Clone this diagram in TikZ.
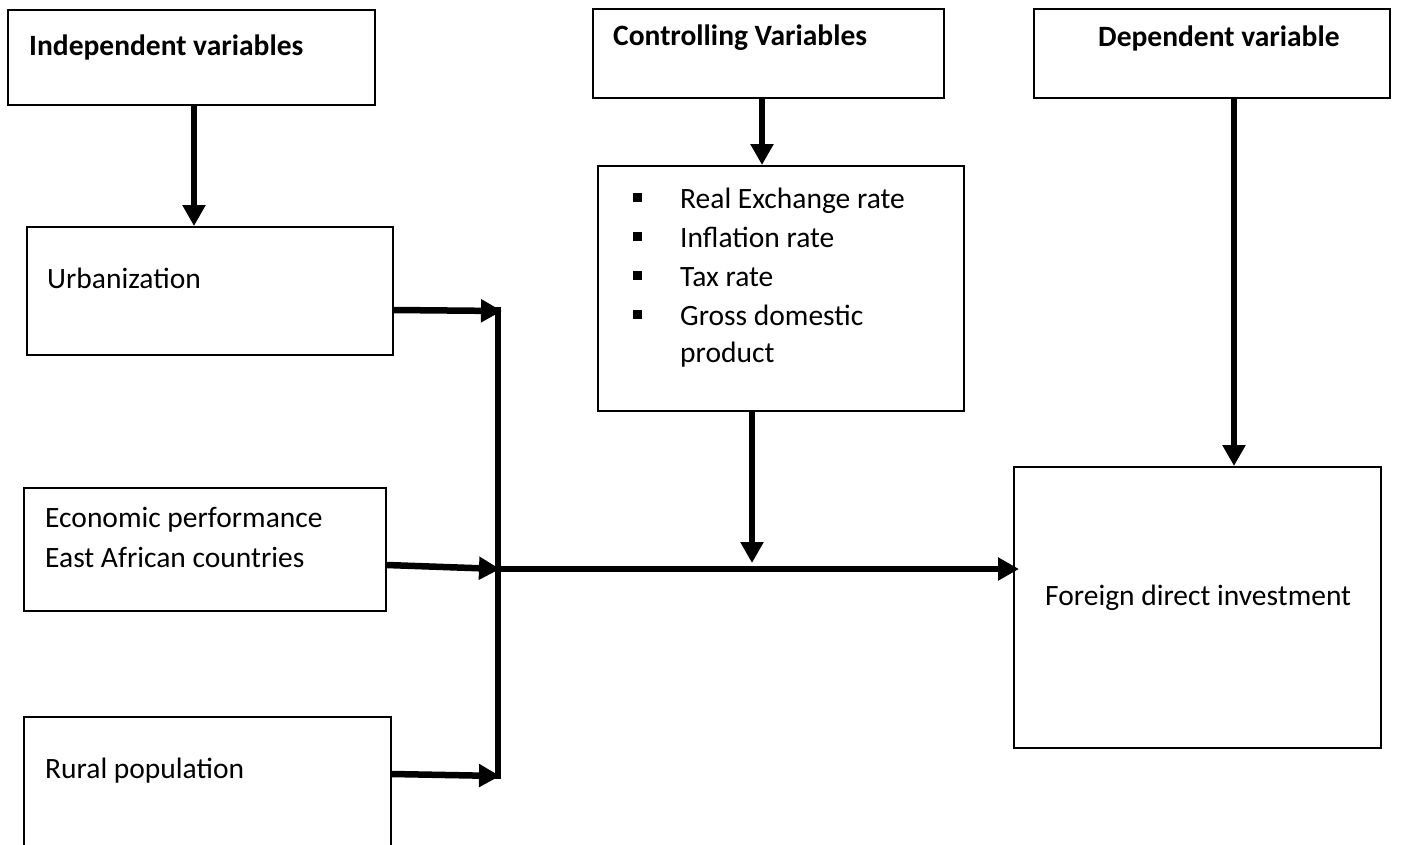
\documentclass[tikz,border=0pt]{standalone}
\usepackage{fontspec}
\setmainfont{Carlito}
\usetikzlibrary{arrows.meta,calc}
\begin{document}
\begin{tikzpicture}[x=1pt,y=1pt,
  box/.style={draw, line width=1.8pt, inner sep=0pt, anchor=north west},
  txt/.style={anchor=base west, inner sep=0pt, font=\fontsize{29.5}{39}\selectfont},
  head/.style={anchor=base west, inner sep=0pt, font=\fontsize{29.5}{34}\selectfont\bfseries},
  arr/.style={line width=6.5pt, -{Triangle[width=22pt,length=21pt]}},
  thick line/.style={line width=6.5pt}]
\useasboundingbox (0,0) rectangle (1406,-844);
\clip (0,0) rectangle (1406,-844);
\fill[white] (0,0) rectangle (1406,-844);

% boxes
\node[box, minimum width=367pt, minimum height=95pt] (ind) at (7,-9) {};
\node[box, minimum width=351pt, minimum height=89pt] (ctrl) at (592,-8) {};
\node[box, minimum width=356pt, minimum height=89pt] (dep) at (1033,-8) {};
\node[box, minimum width=366pt, minimum height=128pt] (urb) at (26,-226) {};
\node[box, minimum width=362pt, minimum height=123pt] (econ) at (23,-487) {};
\node[box, minimum width=367pt, minimum height=160pt] (rural) at (23,-716) {};
\node[box, minimum width=366pt, minimum height=245pt] (bul) at (597,-165) {};
\node[box, minimum width=367pt, minimum height=281pt] (fdi) at (1013,-466) {};

% texts
\node[head] (tind) at (29,-55) {Independent variables};
\node[head] (tctrl) at (613,-45) {Controlling Variables};
\node[head] (tdep) at (1098,-46) {Dependent variable};
\node[txt] (turb) at (47,-288) {Urbanization};
\node[txt] (tecon1) at (45,-527) {Economic performance};
\node[txt] (tecon2) at (45,-567) {East African countries};
\node[txt] (trur) at (45,-778) {Rural population};
\node[txt] (tfdi) at (1045,-605) {Foreign direct investment};

% bullet list
\foreach \y/\t [count=\i] in {-208/Real Exchange rate,-247/Inflation rate,-286/Tax rate,-325/Gross domestic}{
  \node[fill=black, inner sep=0pt, minimum width=8.5pt, minimum height=9pt, anchor=south west] (b\i) at (633,\y+6) {};
  \node[txt] (bt\i) at (680,\y) {\t};
}
\node[txt] (bt5) at (680,-362) {product};

% junction coordinates
\coordinate (jtop) at (498,-311);
\coordinate (jmid) at (498,-569);
\coordinate (jbot) at (498,-776);

% connectors
\draw[arr] (194,0 |- ind.south) -- (194,0 |- urb.north);
\draw[arr] (762,0 |- ctrl.south) -- (762,0 |- bul.north);
\draw[arr] (1234,0 |- dep.south) -- (1234,0 |- fdi.north);
\draw[thick line] (498,-307) -- (498,-779);
\draw[arr] (urb.east |- 0,-310) -- ($(jtop)+(4,0)$);
\draw[arr] (econ.east |- 0,-565) -- ($(jmid)+(2,0)$);
\draw[arr] (rural.east |- 0,-774) -- ($(jbot)+(2,0)$);
\draw[arr] (jmid) -- ($(fdi.west |- jmid)+(6,0)$);
\draw[arr] (752,0 |- bul.south) -- (752,-563);
\end{tikzpicture}
\end{document}
